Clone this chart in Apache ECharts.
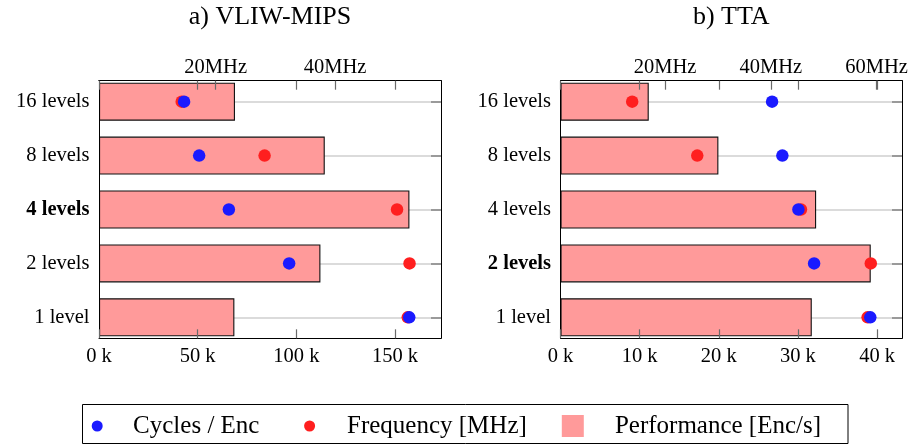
<!DOCTYPE html>
<html>
<head>
<meta charset="utf-8">
<script src="https://cdn.jsdelivr.net/npm/echarts@6.0.0/dist/echarts.min.js"></script>
<style>
  html, body { margin: 0; padding: 0; background: #fff; }
  #chart { width: 913px; height: 445px; }
</style>
</head>
<body>
<div id="chart"></div>
<script>
// Row labels, top to bottom
const levels = ['16 levels', '8 levels', '4 levels', '2 levels', '1 level'];

// a) VLIW-MIPS
const vliwPerf = [68.9, 114.4, 157.3, 112.2, 68.6];   // k Enc/s
const vliwFreq = [14.3, 28.2, 50.4, 52.5, 52.2];      // MHz
const vliwCycles = [209, 246, 319, 467, 762];         // cycles / Enc

// b) TTA
const ttaPerf = [11.15, 19.95, 32.3, 39.2, 31.75];
const ttaFreq = [13.8, 26.1, 45.7, 58.9, 58.3];
const ttaCycles = [1254, 1315, 1410, 1503, 1836];

// Tick labels
const vliwPerfTicks = [0, 50, 100, 150];
const ttaPerfTicks = [0, 10, 20, 30, 40];
const vliwFreqTicks = [20, 40];
const ttaFreqTicks = [20, 40, 60];

const panelTitles = ['a) VLIW-MIPS', 'b) TTA'];
const boldLevels = ['4 levels', '2 levels'];

const seriesNames = ['Cycles / Enc', 'Frequency [MHz]', 'Performance [Enc/s]'];

const FONT = 'Liberation Serif';
const COL_CYC = '#1a1aff';
const COL_FREQ = '#ff1f1f';
const COL_BAR = '#ff9a9a';
const TICK_COL = '#6a6a6a';

const panels = [
  {
    frame: { left: 99, top: 80.7, width: 342, height: 257.6 },
    perf: vliwPerf, freq: vliwFreq, cycles: vliwCycles,
    perfRange: [0, 173.3], freqRange: [0.44, 57.77], cycRange: [0, 840],
    perfTicks: vliwPerfTicks, freqTicks: vliwFreqTicks
  },
  {
    frame: { left: 560.5, top: 80.7, width: 341.5, height: 257.6 },
    perf: ttaPerf, freq: ttaFreq, cycles: ttaCycles,
    perfRange: [0, 43.15], freqRange: [0.25, 64.8], cycRange: [0, 2024],
    perfTicks: ttaPerfTicks, freqTicks: ttaFreqTicks
  }
];

const ROW_PITCH = 53.9;

const grid = [], xAxis = [], yAxis = [], series = [], title = [];

panels.forEach((p, i) => {
  const f = p.frame;
  const rowsTop = f.top + f.height / 2 - ROW_PITCH * levels.length / 2;
  const gA = grid.length;
  grid.push({ left: f.left, top: f.top, width: f.width, height: f.height, containLabel: false });
  const gB = grid.length;
  grid.push({ left: f.left, top: rowsTop, width: f.width, height: ROW_PITCH * levels.length, containLabel: false });

  const line = { show: true, onZero: false, lineStyle: { color: '#000', width: 1 } };
  const noLine = { show: false, onZero: false };
  const tickStyle = { color: TICK_COL, width: 1.2 };
  const labelStyle = { fontFamily: FONT, fontSize: 20.5, color: '#000' };

  // Frame: bottom axis with performance ticks
  xAxis.push({
    type: 'value', gridIndex: gA, position: 'bottom', min: p.perfRange[0], max: p.perfRange[1], z: 10,
    axisLine: line,
    axisTick: { show: true, inside: true, length: 9, lineStyle: tickStyle, customValues: p.perfTicks },
    axisLabel: Object.assign({ show: true, margin: 8, customValues: p.perfTicks, formatter: v => v + ' k' }, labelStyle),
    splitLine: { show: false }
  });
  // mirrored performance ticks on top edge
  xAxis.push({
    type: 'value', gridIndex: gA, position: 'top', min: p.perfRange[0], max: p.perfRange[1], z: 10,
    axisLine: line,
    axisTick: { show: true, inside: true, length: 9, lineStyle: tickStyle, customValues: p.perfTicks },
    axisLabel: { show: false },
    splitLine: { show: false }
  });
  // frequency axis on top edge
  xAxis.push({
    type: 'value', gridIndex: gA, position: 'top', min: p.freqRange[0], max: p.freqRange[1], z: 10,
    axisLine: line,
    axisTick: { show: true, inside: true, length: 9, lineStyle: tickStyle, customValues: p.freqTicks },
    axisLabel: Object.assign({ show: true, margin: 3, customValues: p.freqTicks, formatter: v => v + 'MHz' }, labelStyle),
    splitLine: { show: false }
  });
  // frame sides
  yAxis.push({
    type: 'value', gridIndex: gA, position: 'left', min: 0, max: 1, z: 10,
    axisLine: line, axisTick: { show: false }, axisLabel: { show: false }, splitLine: { show: false }
  });
  yAxis.push({
    type: 'value', gridIndex: gA, position: 'right', min: 0, max: 1, z: 10,
    axisLine: line, axisTick: { show: false }, axisLabel: { show: false }, splitLine: { show: false }
  });

  // Data axes (hidden scales sharing the frame width)
  const xPerfB = xAxis.length;
  xAxis.push({ type: 'value', gridIndex: gB, min: p.perfRange[0], max: p.perfRange[1], show: false, axisLine: noLine });
  const xFreqB = xAxis.length;
  xAxis.push({ type: 'value', gridIndex: gB, min: p.freqRange[0], max: p.freqRange[1], show: false, axisLine: noLine });
  const xCycB = xAxis.length;
  xAxis.push({ type: 'value', gridIndex: gB, min: p.cycRange[0], max: p.cycRange[1], show: false, axisLine: noLine });

  const yCat = yAxis.length;
  yAxis.push({
    type: 'category', gridIndex: gB, position: 'left', inverse: true, data: levels, boundaryGap: true,
    axisLine: noLine, axisTick: { show: false }, splitLine: { show: false },
    axisLabel: Object.assign({
      margin: 9.5,
      formatter: v => (v === boldLevels[i] ? '{b|' + v + '}' : v),
      rich: { b: { fontFamily: FONT, fontSize: 20.5, fontWeight: 'bold', color: '#000' } }
    }, labelStyle)
  });
  yAxis.push({
    type: 'category', gridIndex: gB, position: 'right', inverse: true, data: levels, boundaryGap: true, z: 10,
    axisLine: noLine,
    axisTick: { show: true, inside: true, length: 10, alignWithLabel: true, lineStyle: { color: '#8a8a8a', width: 1.6 } },
    axisLabel: { show: false }, splitLine: { show: false }
  });

  // horizontal guide line through every row
  series.push({
    type: 'line', name: 'rows', data: [], xAxisIndex: xPerfB, yAxisIndex: yCat, silent: true, z: 1,
    markLine: {
      silent: true, z: 1, symbol: ['none', 'none'], animation: false,
      label: { show: false },
      lineStyle: { color: '#cfcfcf', width: 1.5, type: 'solid' },
      data: levels.map(l => ({ yAxis: l }))
    }
  });
  series.push({
    type: 'bar', name: seriesNames[2], xAxisIndex: xPerfB, yAxisIndex: yCat, z: 2,
    barWidth: 38,
    itemStyle: { color: COL_BAR, borderColor: '#111', borderWidth: 1.1 },
    data: p.perf
  });
  series.push({
    type: 'scatter', name: seriesNames[1], xAxisIndex: xFreqB, yAxisIndex: yCat, z: 3,
    symbol: 'circle', symbolSize: 12.5, itemStyle: { color: COL_FREQ, opacity: 1 },
    data: p.freq.map((v, k) => [v, levels[k]])
  });
  series.push({
    type: 'scatter', name: seriesNames[0], xAxisIndex: xCycB, yAxisIndex: yCat, z: 4,
    symbol: 'circle', symbolSize: 12.5, itemStyle: { color: COL_CYC, opacity: 1 },
    data: p.cycles.map((v, k) => [v, levels[k]])
  });

  title.push({
    text: panelTitles[i], left: f.left + f.width / 2, top: 4, textAlign: 'center', padding: 0,
    textStyle: { fontFamily: FONT, fontSize: 26, fontWeight: 'normal', color: '#000' }
  });
});

const legendText = (pad) => ({ fontFamily: FONT, fontSize: 25, color: '#000', lineHeight: 30, padding: [0, 0, 0, pad] });

const option = {
  animation: false,
  backgroundColor: '#fff',
  title,
  grid, xAxis, yAxis, series,
  legend: [
    { data: [seriesNames[0]], left: 91.7, top: 411, padding: 0, itemWidth: 11, itemHeight: 11, icon: 'circle',
      selectedMode: false, textStyle: legendText(25.4) },
    { data: [seriesNames[1]], left: 304.1, top: 411, padding: 0, itemWidth: 11, itemHeight: 11, icon: 'circle',
      selectedMode: false, textStyle: legendText(26.9) },
    { data: [seriesNames[2]], left: 561.8, top: 411, padding: 0, itemWidth: 22, itemHeight: 22, icon: 'rect',
      selectedMode: false, itemStyle: { borderWidth: 0 }, textStyle: legendText(26.1) }
  ],
  graphic: [
    { type: 'rect', z: 0, silent: true, shape: { x: 82.5, y: 404.5, width: 765.5, height: 39 },
      style: { fill: 'none', stroke: '#000', lineWidth: 1 } }
  ]
};

const chart = echarts.init(document.getElementById('chart'), null, { renderer: 'canvas' });
chart.setOption(option);
</script>
</body>
</html>
